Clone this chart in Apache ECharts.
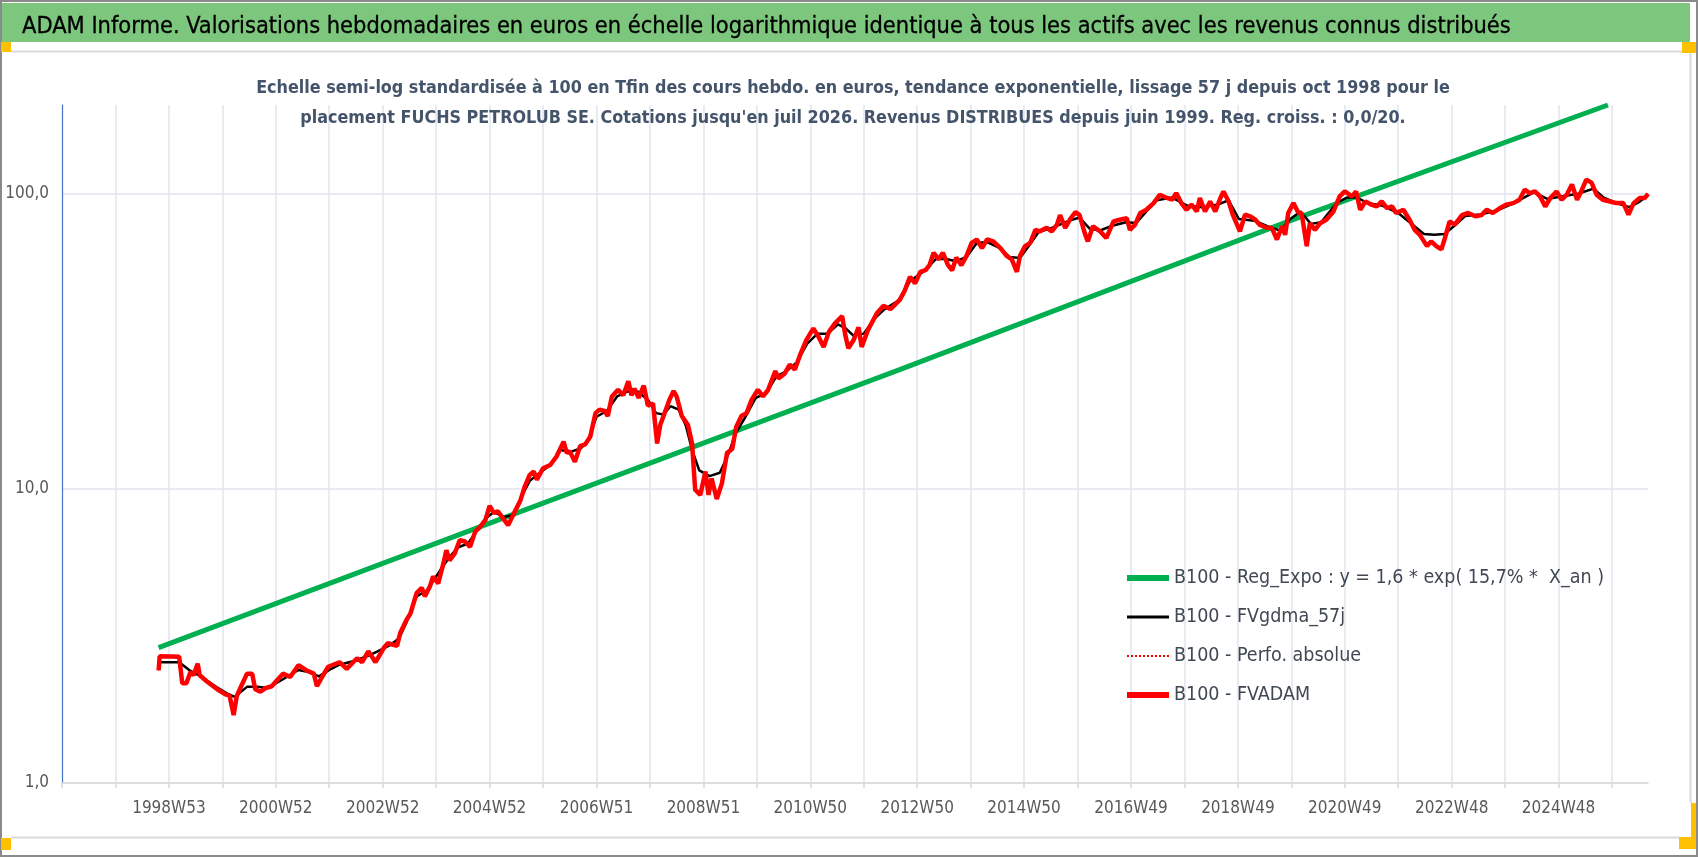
<!DOCTYPE html>
<html>
<head>
<meta charset="utf-8">
<title>FUCHS PETROLUB SE - ADAM</title>
<script src="https://cdn.jsdelivr.net/npm/echarts@6/dist/echarts.min.js"></script>
<style>
html, body { margin: 0; padding: 0; background: #fff; }
#main { width: 1698px; height: 857px; }
</style>
</head>
<body>
<div id="main"></div>
<script>
// axe des semaines : index 0 = debut de l'axe, 1543 = juil 2026
var nbWeeks = 1544;
var xLabels = ['1998W53', '2000W52', '2002W52', '2004W52', '2006W51', '2008W51', '2010W50',
  '2012W50', '2014W50', '2016W49', '2018W49', '2020W49', '2022W48', '2024W48'];
var yLabels = ['1,0', '10,0', '100,0'];

// [semaine, valeur base 100]
var regExpo = [[94, 2.88], [446, 8.34], [815, 25.3], [1204, 83.3], [1504, 200]];

var fvgdma = [[95,2.57],[114,2.57],[125,2.4],[135,2.3],[150,2.12],[160,2.02],[168,1.96],[180,2.12],[190,2.12],[200,2.1],
  [215,2.25],[230,2.42],[240,2.38],[250,2.3],[260,2.42],[270,2.52],[285,2.6],[300,2.72],[312,2.85],[320,2.95],
  [328,3.1],[335,3.5],[345,4.3],[355,4.5],[362,4.9],[370,5.4],[378,5.9],[385,6.3],[395,6.5],[405,7.3],
  [412,7.9],[420,8.3],[430,8.0],[438,8.1],[446,9.2],[455,10.6],[465,11.3],[475,12.0],[485,13.5],[495,13.3],
  [505,13.7],[512,14.6],[520,17.5],[530,18.3],[540,20.5],[550,21.3],[560,21.3],[570,20.0],[578,18.0],[585,17.8],
  [592,19.0],[600,18.5],[607,16.3],[613,13.5],[620,11.5],[630,11.0],[640,11.3],[648,13.0],[656,15.5],[665,17.5],
  [675,20.3],[685,21.0],[695,24.0],[705,25.0],[715,26.8],[725,31.0],[735,33.5],[745,33.5],[755,36.0],[762,35.0],
  [770,33.0],[780,33.5],[790,37.5],[800,40.5],[815,43.6],[825,50.5],[840,55.0],[850,60.0],[860,60.0],[870,59.0],
  [880,61.0],[890,68.0],[900,68.5],[912,65.5],[922,61.0],[932,60.5],[940,66.0],[950,74.0],[965,77.0],[980,81.0],
  [990,83.0],[1000,76.0],[1010,75.0],[1020,77.5],[1035,80.0],[1045,79.5],[1055,87.0],[1065,95.0],[1080,97.0],[1095,91.0],
  [1110,90.0],[1125,92.0],[1135,95.0],[1145,82.0],[1160,81.0],[1175,77.0],[1185,75.0],[1195,82.0],[1205,87.0],[1215,79.0],
  [1225,80.0],[1240,93.0],[1250,97.0],[1260,97.0],[1270,93.0],[1285,91.0],[1300,86.0],[1315,78.0],[1325,73.0],[1335,72.5],
  [1345,73.0],[1355,78.0],[1365,84.0],[1380,85.0],[1395,87.5],[1410,92.0],[1420,96.0],[1432,101.0],[1445,96.0],[1460,98.0],
  [1475,100.0],[1490,104.0],[1500,97.0],[1512,93.0],[1525,90.0],[1535,94.0],[1543,99.0]];

var fvadam = [[94,2.41],[95,2.69],[114,2.68],[117,2.18],[121,2.18],[125,2.38],[128,2.32],[132,2.54],[134,2.32],[141,2.21],
  [151,2.08],[159,2.0],[163,1.98],[167,1.70],[170,1.97],[173,2.08],[180,2.35],[185,2.35],[188,2.08],[193,2.04],
  [198,2.1],[204,2.13],[215,2.35],[222,2.29],[230,2.51],[238,2.41],[245,2.35],[248,2.13],[253,2.29],[259,2.48],
  [270,2.57],[277,2.44],[287,2.65],[292,2.57],[298,2.80],[305,2.57],[313,2.87],[317,2.98],[326,2.92],[329,3.23],
  [335,3.57],[339,3.76],[345,4.41],[350,4.6],[353,4.3],[358,4.65],[361,5.02],[366,4.76],[371,5.55],[374,6.17],
  [377,5.7],[382,6.0],[387,6.67],[392,6.6],[397,6.33],[402,7.13],[407,7.42],[412,7.82],[416,8.72],[420,8.25],
  [424,8.35],[429,7.92],[434,7.5],[439,8.14],[446,9.1],[450,10.1],[455,11.1],[459,11.4],[462,10.7],[468,11.7],
  [475,12.0],[481,12.8],[488,14.4],[491,13.2],[494,13.35],[499,12.3],[504,13.9],[509,14.1],[514,15.0],[519,18.0],
  [523,18.5],[528,18.3],[531,17.6],[535,20.5],[541,21.6],[546,20.7],[551,23.1],[554,20.7],[557,21.8],[561,20.3],
  [566,22.3],[570,19.1],[575,19.4],[579,14.2],[582,16.4],[587,18.3],[591,20.0],[595,21.4],[598,20.5],[603,17.6],
  [609,16.4],[613,14.2],[616,9.9],[621,9.5],[626,11.4],[629,9.5],[632,10.8],[637,9.2],[642,10.4],[647,13.2],
  [652,13.6],[656,16.2],[661,17.6],[666,18.0],[671,20.0],[677,21.6],[682,20.5],[687,21.6],[694,25.0],[697,23.6],
  [703,24.5],[708,26.3],[713,25.3],[718,28.3],[724,31.8],[731,34.9],[736,32.7],[741,30.2],[746,33.9],[752,36.3],
  [759,38.4],[762,33.2],[765,29.9],[770,31.8],[775,35.2],[778,30.2],[784,34.4],[793,39.4],[799,41.6],[806,40.6],
  [815,43.6],[820,47.0],[825,52.2],[830,49.6],[835,54.3],[840,55.0],[844,57.2],[848,63.0],[853,59.9],[857,63.0],
  [862,57.2],[866,55.0],[870,60.7],[875,57.2],[880,61.5],[885,68.1],[890,69.9],[895,65.4],[900,69.9],[906,68.9],
  [913,65.4],[919,61.5],[924,59.9],[929,54.3],[932,61.5],[937,66.4],[942,68.1],[947,75.4],[951,74.5],[958,76.6],
  [963,74.5],[968,78.5],[971,84.6],[976,76.6],[981,82.2],[986,86.6],[990,84.6],[995,73.5],[998,68.9],[1003,77.5],
  [1010,74.5],[1016,70.7],[1023,80.5],[1029,81.6],[1036,82.5],[1039,75.4],[1044,78.5],[1049,86.0],[1055,88.2],[1062,92.9],
  [1068,99.2],[1075,96.7],[1080,95.4],[1084,100.5],[1089,92.9],[1094,88.2],[1099,91.8],[1104,87.0],[1107,96.7],[1112,87.0],
  [1117,94.1],[1122,87.0],[1127,96.7],[1130,101.8],[1135,94.1],[1139,84.9],[1146,74.5],[1151,84.9],[1156,83.8],[1161,81.6],
  [1165,78.5],[1172,76.6],[1177,76.6],[1182,69.9],[1187,77.5],[1190,72.5],[1193,86.0],[1198,92.9],[1203,86.0],[1206,86.0],
  [1211,66.4],[1214,79.4],[1219,75.4],[1224,79.4],[1230,81.6],[1237,87.0],[1243,97.9],[1248,101.8],[1255,97.9],[1259,101.8],
  [1263,88.2],[1268,94.1],[1274,91.8],[1279,90.5],[1284,94.1],[1289,89.4],[1294,90.5],[1298,86.0],[1305,88.2],[1311,81.6],
  [1316,75.4],[1321,72.5],[1328,66.4],[1332,68.9],[1337,66.4],[1342,64.7],[1345,69.9],[1350,80.5],[1355,78.5],[1362,84.6],
  [1368,86.0],[1375,83.8],[1381,84.6],[1386,88.2],[1392,86.0],[1399,89.4],[1405,91.8],[1412,92.9],[1418,95.4],[1423,103.2],
  [1428,100.5],[1433,101.8],[1438,97.9],[1443,90.5],[1448,96.7],[1454,101.8],[1459,95.4],[1464,99.2],[1469,107.4],[1474,95.4],
  [1478,101.8],[1483,111.6],[1488,109.0],[1493,99.2],[1499,95.4],[1506,94.1],[1512,92.9],[1519,92.9],[1524,84.9],[1529,92.9],
  [1535,96.7],[1540,96.7],[1543,100]];

var weeks = [];
for (var i = 0; i < nbWeeks; i++) {
  weeks.push(String(i));
}

var F = '"Liberation Sans Narrow", "DejaVu Sans Condensed", "Open Sans", sans-serif';
var gridColor = '#e1e5ed';
var nomReg = 'B100 - Reg_Expo : y = 1,6 * exp( 15,7% *  X_an )';

var myChart = echarts.init(document.getElementById('main'));

option = {
  animation: false,
  backgroundColor: '#fff',
  title: [
    {
      text: 'ADAM Informe. Valorisations hebdomadaires en euros en échelle logarithmique identique à tous les actifs avec les revenus connus distribués',
      left: 17, top: 10,
      textStyle: { fontFamily: F, fontSize: 23.4, fontWeight: 'normal', color: '#000', textBorderColor: '#000', textBorderWidth: 0.3 }
    },
    {
      text: 'Echelle semi-log standardisée à 100 en Tfin des cours hebdo. en euros, tendance exponentielle, lissage 57 j depuis oct 1998 pour le\nplacement FUCHS PETROLUB SE. Cotations jusqu\'en juil 2026. Revenus DISTRIBUES depuis juin 1999. Reg. croiss. : 0,0/20.',
      left: 848, top: 68, textAlign: 'center',
      textStyle: { fontFamily: F, fontSize: 17.8, fontWeight: 'bold', color: '#44546a', lineHeight: 30 }
    }
  ],
  graphic: [
    { type: 'rect', shape: { x: 1, y: 1, width: 1696, height: 855 }, style: { fill: 'none', stroke: '#8a8a8a', lineWidth: 2 } },
    { type: 'rect', shape: { x: 2, y: 3, width: 1688, height: 39 }, style: { fill: '#7dc67d' } },
    { type: 'line', shape: { x1: 11, y1: 51.5, x2: 1682, y2: 51.5 }, style: { stroke: '#dadada', lineWidth: 2 } },
    { type: 'line', shape: { x1: 1690.5, y1: 52, x2: 1690.5, y2: 803 }, style: { stroke: '#dadada', lineWidth: 2 } },
    { type: 'line', shape: { x1: 11, y1: 837.5, x2: 1679, y2: 837.5 }, style: { stroke: '#dadada', lineWidth: 2 } },
    { type: 'rect', shape: { x: 1, y: 42, width: 10, height: 10 }, style: { fill: '#ffc000' } },
    { type: 'rect', shape: { x: 1682, y: 42, width: 14, height: 11 }, style: { fill: '#ffc000' } },
    { type: 'rect', shape: { x: 1, y: 838, width: 10, height: 12 }, style: { fill: '#ffc000' } },
    { type: 'rect', shape: { x: 1691, y: 803, width: 5, height: 35 }, style: { fill: '#ffc000' } },
    { type: 'rect', shape: { x: 1679, y: 837, width: 17, height: 12 }, style: { fill: '#ffc000' } }
  ],
  grid: { left: 62, right: 50, top: 105, bottom: 74 },
  legend: {
    orient: 'vertical',
    left: 1119, top: 563,
    itemWidth: 42, itemHeight: 14, itemGap: 19,
    itemStyle: { opacity: 0 },
    textStyle: { fontFamily: F, fontSize: 19.5, color: '#404854' },
    data: [
      { name: nomReg, lineStyle: { width: 6, color: '#00b050' } },
      { name: 'B100 - FVgdma_57j', lineStyle: { width: 3, color: '#000' } },
      { name: 'B100 - Perfo. absolue', lineStyle: { width: 2, color: '#ff0000', type: 'dotted' } },
      { name: 'B100 - FVADAM', lineStyle: { width: 6, color: '#ff0000' } }
    ]
  },
  xAxis: {
    type: 'category',
    boundaryGap: false,
    data: weeks,
    axisLine: { lineStyle: { color: '#d9d9d9', width: 1.5 } },
    axisTick: {
      interval: function (index) { return index % 52 === 0; },
      length: 5,
      lineStyle: { color: '#d9d9d9', width: 1.5 }
    },
    axisLabel: {
      interval: function (index) { return index >= 104 && index % 104 === 0; },
      formatter: function (value, index) { return xLabels[index / 104 - 1] || ''; },
      margin: 17,
      fontFamily: F, fontSize: 17, color: '#595959'
    },
    splitLine: {
      show: true,
      interval: function (index) { return index > 0 && index % 52 === 0; },
      lineStyle: { color: gridColor, width: 1.5 }
    }
  },
  yAxis: {
    type: 'log',
    logBase: 10,
    min: 1,
    max: 200,
    axisLine: { show: true, lineStyle: { color: '#4472c4', width: 1.2 } },
    axisTick: { show: false },
    axisLabel: {
      showMaxLabel: false,
      formatter: function (value) {
        var k = Math.round(Math.log(value) / Math.LN10);
        return yLabels[k] || '';
      },
      margin: 13,
      fontFamily: F, fontSize: 17, color: '#595959'
    },
    splitLine: {
      show: true,
      lineStyle: { color: [gridColor, gridColor, gridColor, 'rgba(0,0,0,0)'], width: 1.5 }
    }
  },
  series: [
    {
      name: nomReg,
      type: 'line',
      data: regExpo,
      symbol: 'none',
      lineStyle: { color: '#00b050', width: 5 },
      itemStyle: { color: '#00b050' }
    },
    {
      name: 'B100 - FVgdma_57j',
      type: 'line',
      data: fvgdma,
      symbol: 'none',
      lineStyle: { color: '#000', width: 2.5 },
      itemStyle: { color: '#000' }
    },
    {
      name: 'B100 - Perfo. absolue',
      type: 'line',
      data: fvadam,
      symbol: 'none',
      lineStyle: { color: '#ff0000', width: 1.5, type: 'dotted' },
      itemStyle: { color: '#ff0000' }
    },
    {
      name: 'B100 - FVADAM',
      type: 'line',
      data: fvadam,
      symbol: 'none',
      lineStyle: { color: '#ff0000', width: 4.5 },
      itemStyle: { color: '#ff0000' }
    }
  ]
};

myChart.setOption(option);
</script>
</body>
</html>
